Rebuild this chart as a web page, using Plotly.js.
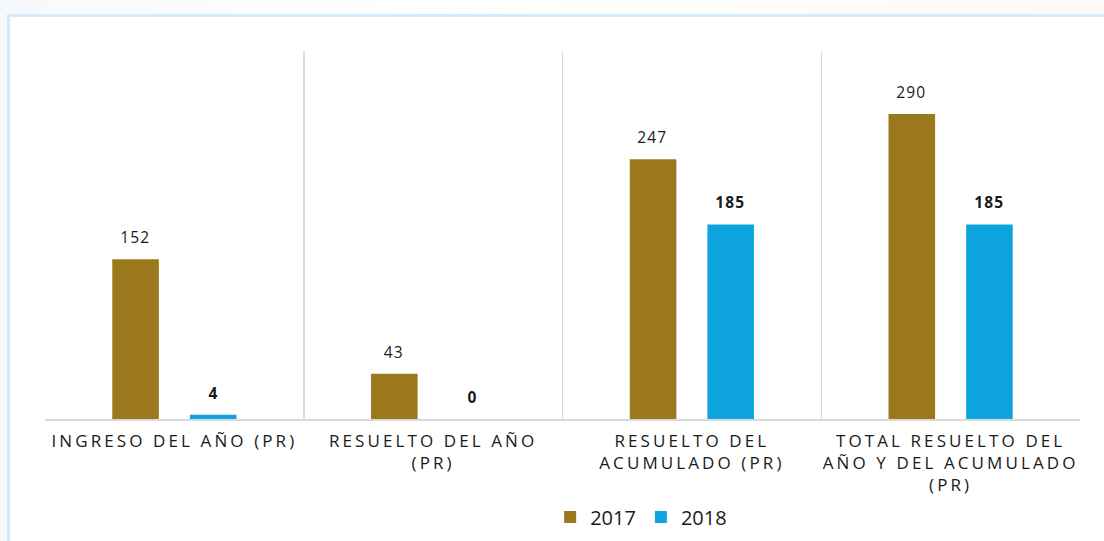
<!DOCTYPE html>
<html>
<head>
<meta charset="utf-8">
<script src="https://cdn.plot.ly/plotly-3.0.1.min.js"></script>
<style>
  html, body { margin: 0; padding: 0; width: 1104px; height: 541px; overflow: hidden;
    background: linear-gradient(90deg, #f5f9fd 0%, #ffffff 40%, #fbfaf5 100%); }
  #frame { position: absolute; left: 7px; top: 14px; width: 1097px; height: 527px;
    border-left: 3px solid #d4ebfb; border-top: 3px solid #d4ebfb; background: #ffffff; box-sizing: border-box; }
  #chart { position: absolute; left: 0px; top: 0px; width: 1094px; height: 524px; }
  .xtick text { letter-spacing: 3.1px; }
  .annotation text { letter-spacing: 1.2px; }
</style>
</head>
<body>
<div id="frame"><div id="chart"></div></div>
<script>
const categories = [
  "INGRESO DEL AÑO (PR)",
  "RESUELTO DEL AÑO<br>(PR)",
  "RESUELTO DEL<br>ACUMULADO (PR)",
  "TOTAL RESUELTO DEL<br>AÑO Y DEL ACUMULADO<br>(PR)"
];
const series2017 = [152, 43, 247, 290];
const series2018 = [4, 0, 185, 185];
const seriesNames = ["2017", "2018"];
const colors = ["#9c781d", "#0ea5de"];

const traces = [
  { type: "bar", name: seriesNames[0], x: categories, y: series2017, marker: { color: colors[0] }, hoverinfo: "none" },
  { type: "bar", name: seriesNames[1], x: categories, y: series2018, marker: { color: colors[1] }, hoverinfo: "none" }
];

const annotations = [];
const shiftPx = 39;
categories.forEach((c, i) => {
  annotations.push({ x: c, y: series2017[i], xref: "x", yref: "y", text: String(series2017[i]),
    showarrow: false, xshift: -shiftPx, yshift: 22, font: { family: "Open Sans, sans-serif", size: 15.5, color: "#1a1a1a" } });
  annotations.push({ x: c, y: series2018[i], xref: "x", yref: "y", text: "<b>" + series2018[i] + "</b>",
    showarrow: false, xshift: shiftPx, yshift: 22, font: { family: "Open Sans, sans-serif", size: 15.5, color: "#1a1a1a" } });
});

const layout = {
  width: 1094, height: 524,
  margin: { l: 35, r: 24, t: 34, b: 122, autoexpand: false },
  paper_bgcolor: "#ffffff", plot_bgcolor: "#ffffff",
  barmode: "group", bargap: 0.4, bargroupgap: 0.4,
  showlegend: true,
  legend: { orientation: "h", x: 0.576, xanchor: "center", y: -0.266, yanchor: "middle",
    font: { family: "Open Sans, sans-serif", size: 20, color: "#1a1a1a" }, itemwidth: 30, traceorder: "normal" },
  xaxis: {
    type: "category", tickson: "boundaries", showgrid: true, gridcolor: "#d9d9d9", gridwidth: 1.5,
    showline: true, linecolor: "#d9d9d9", linewidth: 1.5, ticks: "", ticklen: 0, ticklabelstandoff: 6,
    tickfont: { family: "Open Sans, sans-serif", size: 17, color: "#1a1a1a" }, fixedrange: true
  },
  yaxis: {
    range: [0, 350], showgrid: false, showticklabels: false, zeroline: false, showline: false, ticks: "", fixedrange: true
  },
  annotations: annotations
};

Plotly.newPlot("chart", traces, layout, { displayModeBar: false, staticPlot: true });
</script>
</body>
</html>
